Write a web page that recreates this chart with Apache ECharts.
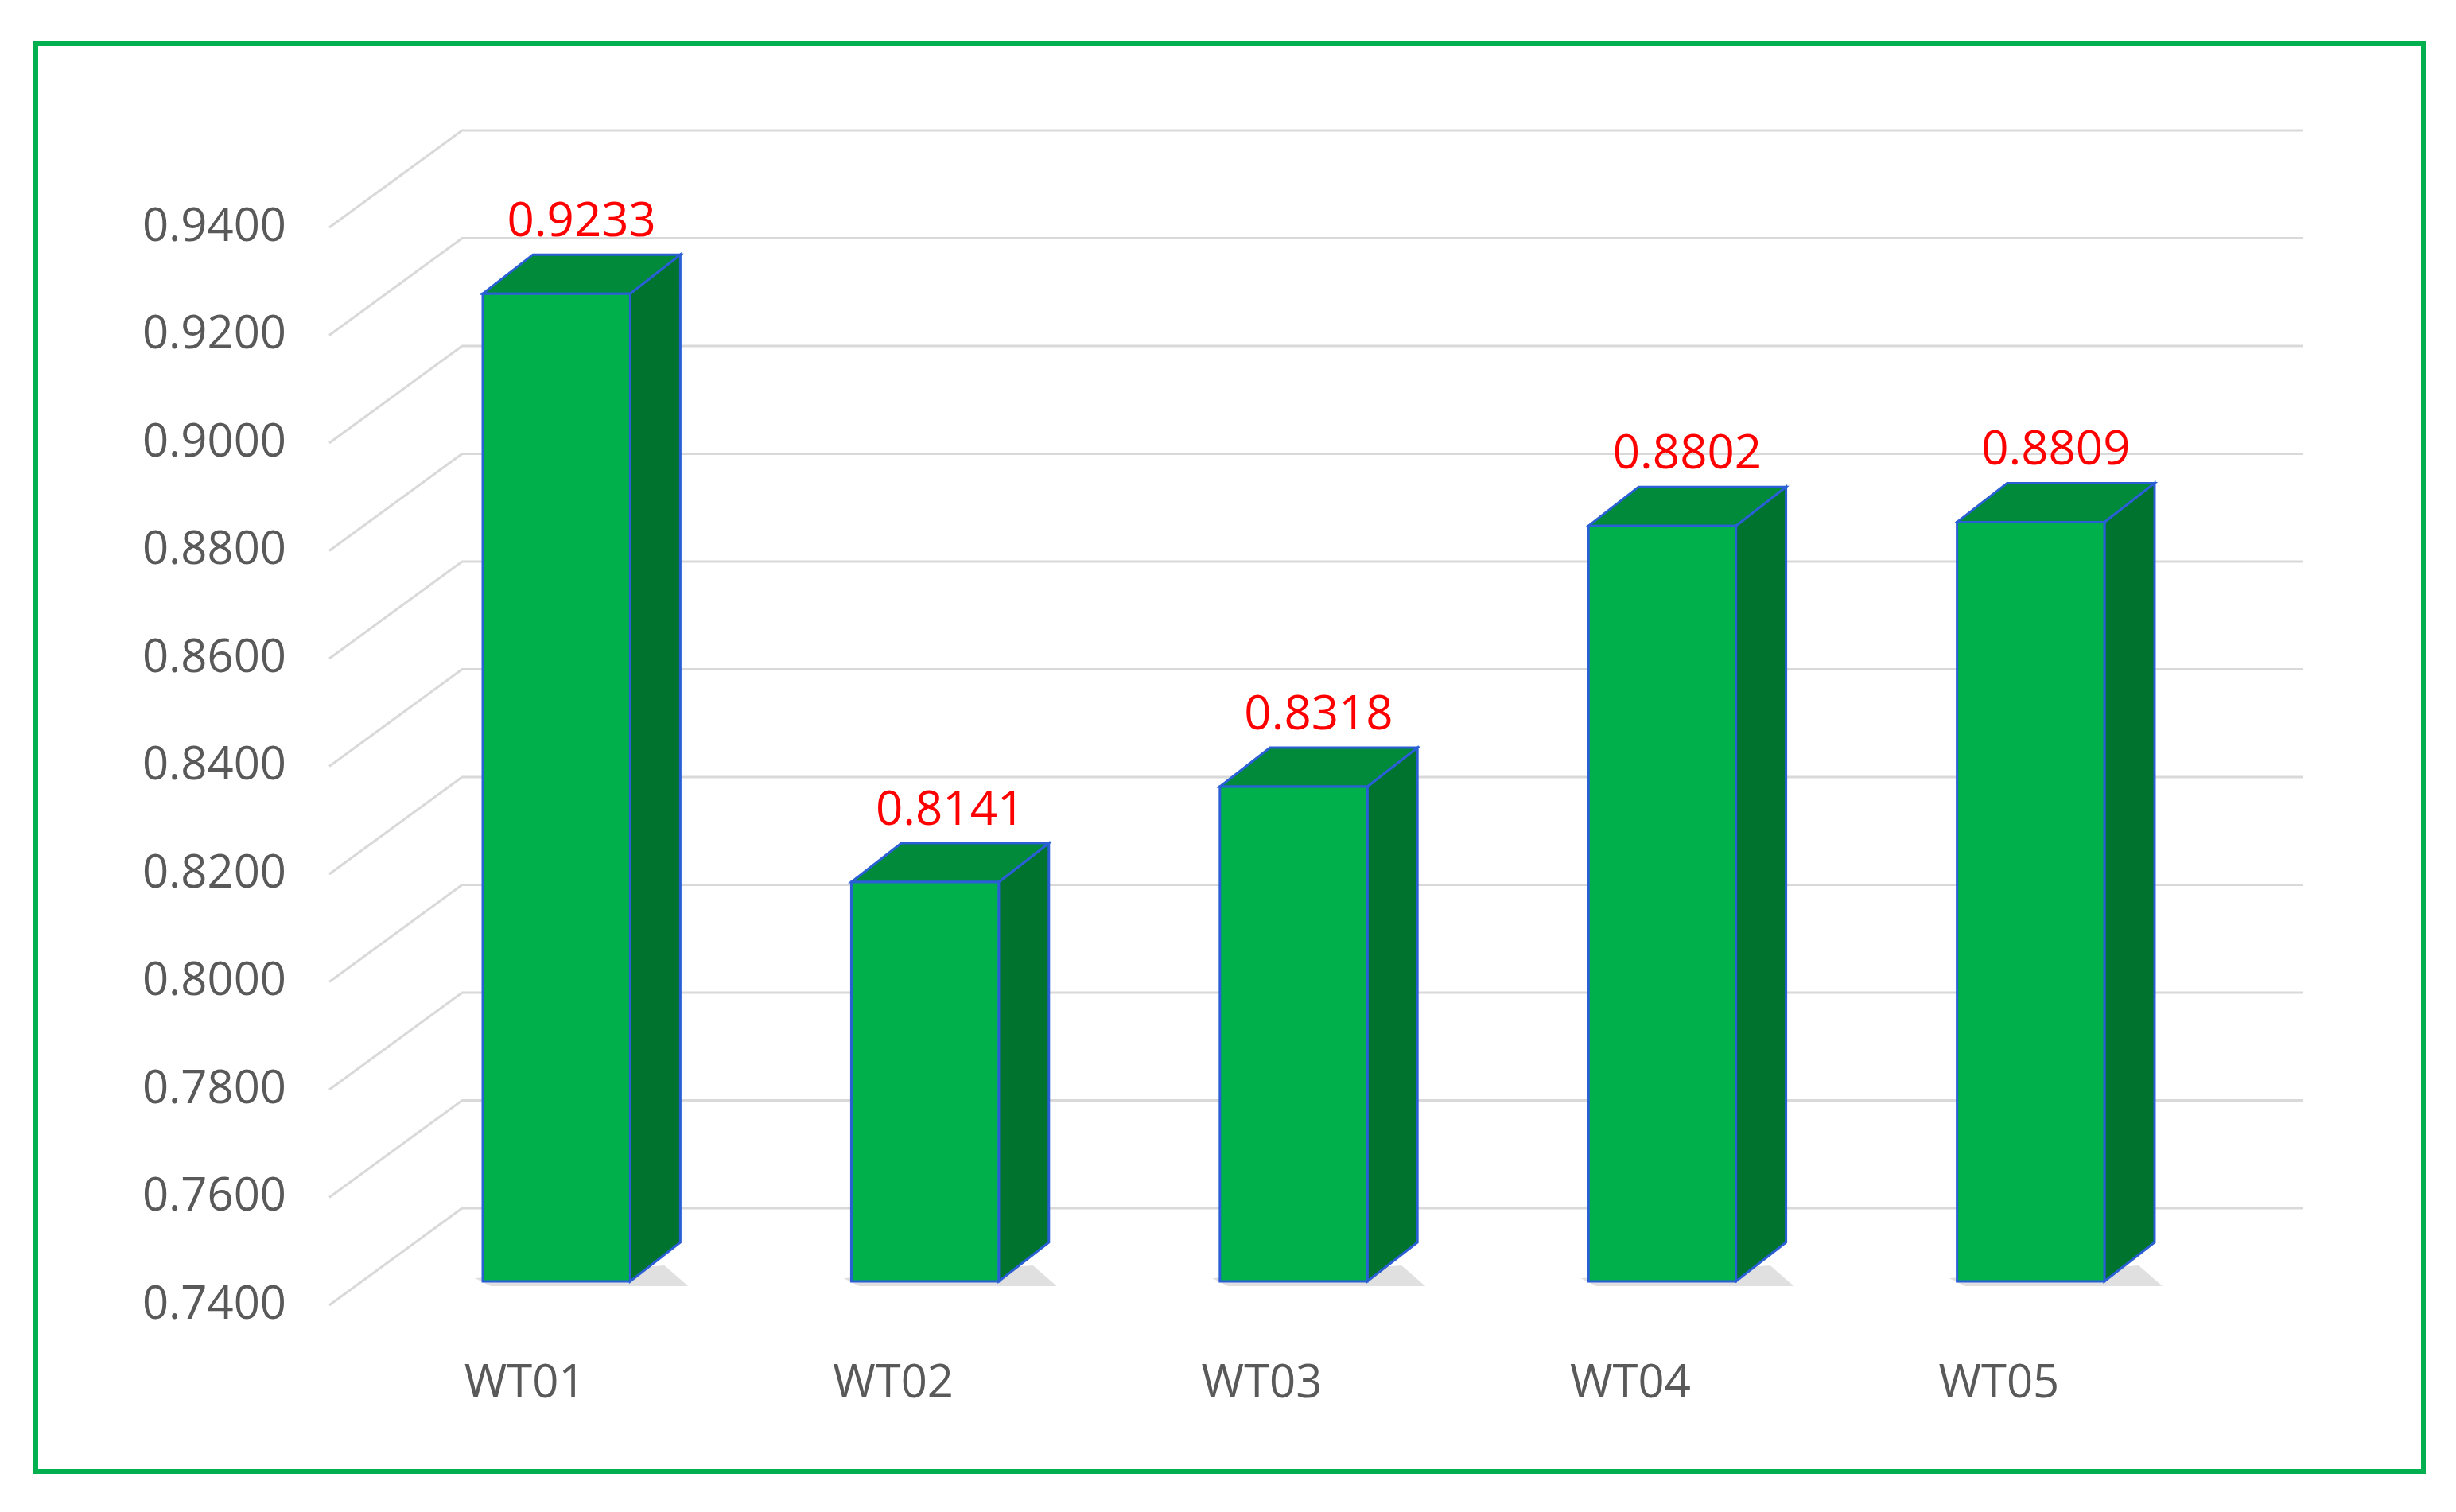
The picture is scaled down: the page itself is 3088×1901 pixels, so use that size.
<!DOCTYPE html>
<html>
<head>
<meta charset="utf-8">
<script src="https://cdn.jsdelivr.net/npm/echarts@6/dist/echarts.min.js"></script>
<style>html,body{margin:0;padding:0;background:#fff}#chart{width:3088px;height:1901px}</style>
</head>
<body>
<div id="chart"></div>
<script>
const categories = ['WT01', 'WT02', 'WT03', 'WT04', 'WT05'];
const values = [0.9233, 0.8141, 0.8318, 0.8802, 0.8809];
const yTicks = [0.74, 0.76, 0.78, 0.80, 0.82, 0.84, 0.86, 0.88, 0.90, 0.92, 0.94];

const chart = echarts.init(document.getElementById('chart'));

const DX = 63, DY = 49, LIFT = 30;

function renderWall(params, api) {
    const cs = params.coordSys;
    const p = api.coord([0, api.value(0)]);
    const y = p[1];
    const x0 = cs.x - 54, x1 = cs.x + 113, x2 = cs.x + cs.width + 111;
    return {
        type: 'polyline',
        shape: { points: [[x0, y], [x1, y - 122], [x2, y - 122]] },
        style: { stroke: '#d9d9d9', lineWidth: 3, fill: null },
        silent: true
    };
}

function renderBar(params, api) {
    const idx = api.value(0);
    const top = api.coord([idx, api.value(1)]);
    const base = api.coord([idx, 0.74]);
    const hw = api.size([1, 0])[0] * 0.2;
    const l = top[0] - hw, r = top[0] + hw;
    const t = top[1] - LIFT, b = base[1] - LIFT;
    const stroke = '#2a5fd6';
    return {
        type: 'group',
        children: [
            { type: 'polygon', shape: { points: [[l + 10, b + 6], [r + DX + 10, b + 6], [r + DX - 20, b - 20], [l - 10, b - 4]] },
              style: { fill: 'rgba(0,0,0,0.12)' } },
            { type: 'polygon', shape: { points: [[r, t], [r + DX, t - DY], [r + DX, b - DY], [r, b]] },
              style: { fill: '#00732e', stroke: stroke, lineWidth: 3 } },
            { type: 'polygon', shape: { points: [[l, t], [l + DX, t - DY], [r + DX, t - DY], [r, t]] },
              style: { fill: '#008a3a', stroke: stroke, lineWidth: 3 } },
            { type: 'rect', shape: { x: l, y: t, width: r - l, height: b - t },
              style: { fill: '#00b04a', stroke: stroke, lineWidth: 3 } },
            { type: 'text', x: top[0] + DX / 2, y: t - DY - 40,
              style: { text: api.value(1).toFixed(4), fill: '#ff0000', font: '60px "Open Sans", sans-serif',
                       textAlign: 'center', textVerticalAlign: 'middle' } }
        ]
    };
}

const option = {
    backgroundColor: '#fff',
    animation: false,
    graphic: [{
        type: 'rect', shape: { x: 45, y: 55, width: 3002, height: 1795 },
        style: { fill: null, stroke: '#00b050', lineWidth: 6 }, z: 100
    }],
    grid: { left: 468, right: 303, top: 286, bottom: 260 },
    xAxis: {
        type: 'category', data: categories,
        axisLine: { show: false }, axisTick: { show: false },
        axisLabel: { color: '#595959', fontSize: 58, fontFamily: 'Open Sans', margin: 70, padding: [0, 80, 0, 0] }
    },
    yAxis: {
        type: 'value', min: 0.74, max: 0.94, interval: 0.02,
        splitLine: { show: false }, axisLine: { show: false }, axisTick: { show: false },
        axisLabel: { color: '#595959', fontSize: 58, fontFamily: 'Open Sans', margin: 108,
                     formatter: v => v.toFixed(4) }
    },
    series: [
        { type: 'custom', renderItem: renderWall, data: yTicks.map(v => [v]), encode: { y: 0 }, z: 1, clip: false },
        { type: 'custom', renderItem: renderBar, data: values.map((v, i) => [i, v]), encode: { x: 0, y: 1 }, z: 2, clip: false }
    ]
};

chart.setOption(option);
</script>
</body>
</html>
